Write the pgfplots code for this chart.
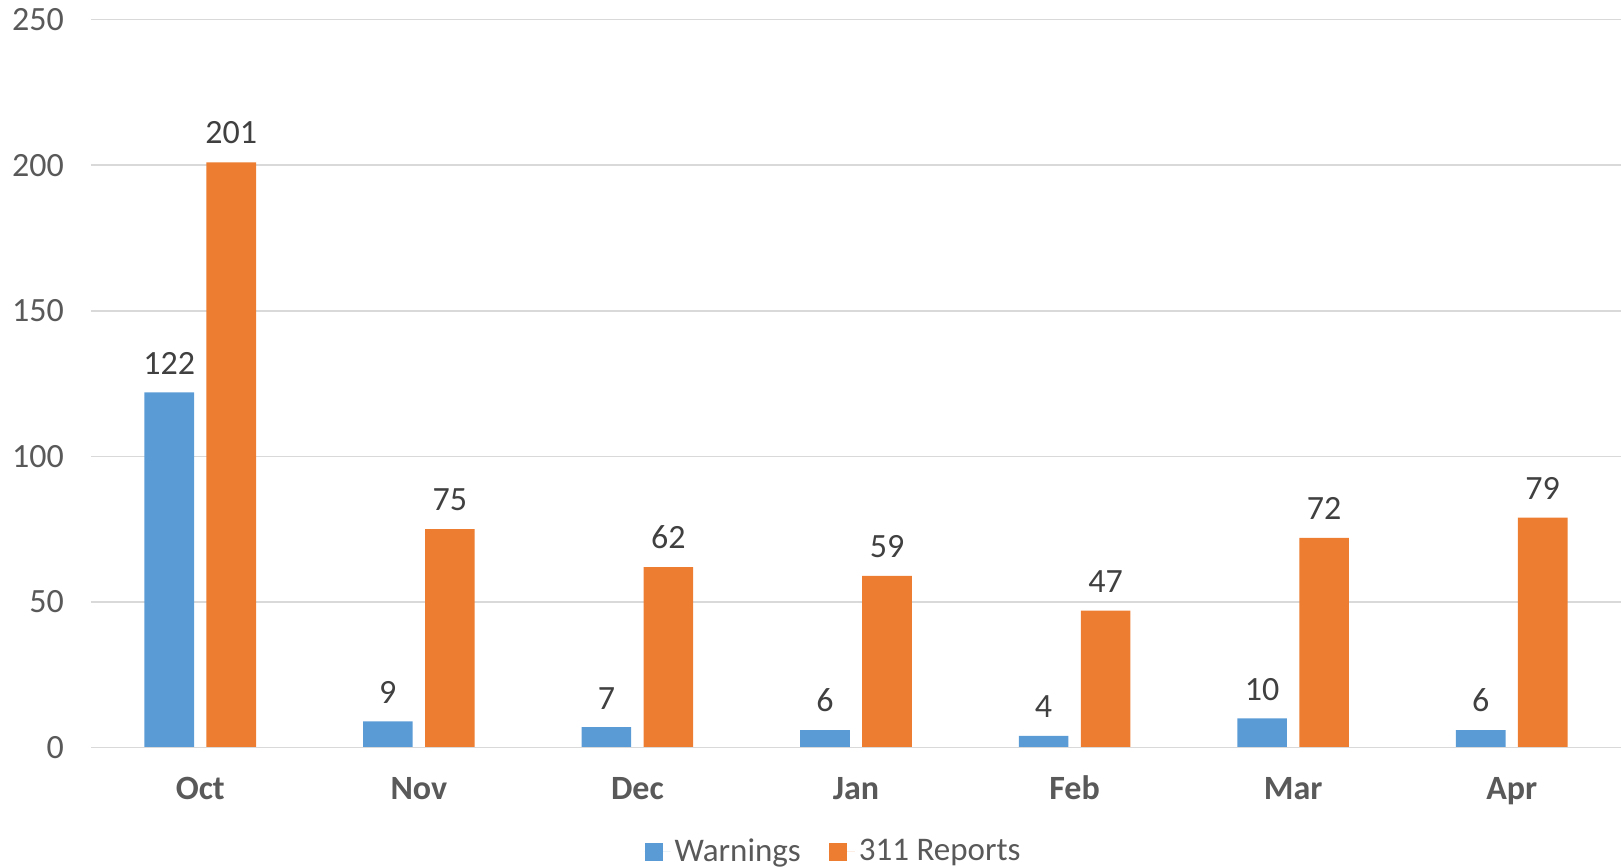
\documentclass[border=0pt]{standalone}
\usepackage{pgfplots}
\pgfplotsset{compat=1.18}
\usepackage{fontspec}
\setmainfont{Carlito}
\definecolor{cblue}{HTML}{5B9BD5}
\definecolor{corange}{HTML}{ED7D31}
\definecolor{tickgray}{HTML}{595959}
\definecolor{gridgray}{HTML}{D9D9D9}
\definecolor{labgray}{HTML}{404040}
\begin{document}
\begin{tikzpicture}
\useasboundingbox (-45.5pt,-60pt) rectangle (765pt,373.8pt);
\begin{axis}[
  scale only axis,
  width=765pt, height=364pt,
  xmin=-0.5, xmax=6.5,
  ymin=0, ymax=250,
  ytick={0,50,100,150,200,250},
  xtick={0,1,2,3,4,5,6},
  xticklabels={Oct,Nov,Dec,Jan,Feb,Mar,Apr},
  xticklabel style={font=\fontsize{17}{20}\selectfont\bfseries, text=tickgray, yshift=-10.5pt, text height=12pt, text depth=4pt},
  yticklabel style={font=\fontsize{17}{20}\selectfont, text=tickgray, xshift=-10pt},
  /pgf/number format/assume math mode=true,
  axis line style={draw=none},
  major tick length=0pt,
  ymajorgrids,
  grid style={gridgray, line width=0.8pt},
  ybar,
  bar width=24.8pt,
  nodes near coords,
  every node near coord/.append style={font=\fontsize{17}{20}\selectfont, text=labgray, yshift=5.5pt},
  legend style={at={(0.486,-0.143)}, anchor=center, draw=none, legend columns=2,
    font=\fontsize{16.5}{20}\selectfont, text=tickgray,
    /tikz/every even column/.append style={column sep=12pt}},
  legend image code/.code={\path (0pt,0pt) -- (13pt,0pt); \fill[#1] (0pt,-4.5pt) rectangle (9pt,4.5pt);},
  clip=false,
]
\addplot[fill=cblue, draw=none, bar shift=-15.5pt] coordinates {(0,122) (1,9) (2,7) (3,6) (4,4) (5,10) (6,6)};
\addplot[fill=corange, draw=none, bar shift=15.5pt] coordinates {(0,201) (1,75) (2,62) (3,59) (4,47) (5,72) (6,79)};
\legend{Warnings, 311 Reports}
\draw[gridgray, line width=0.8pt] (rel axis cs:0,0) -- (rel axis cs:1,0);
\end{axis}
\end{tikzpicture}
\end{document}
